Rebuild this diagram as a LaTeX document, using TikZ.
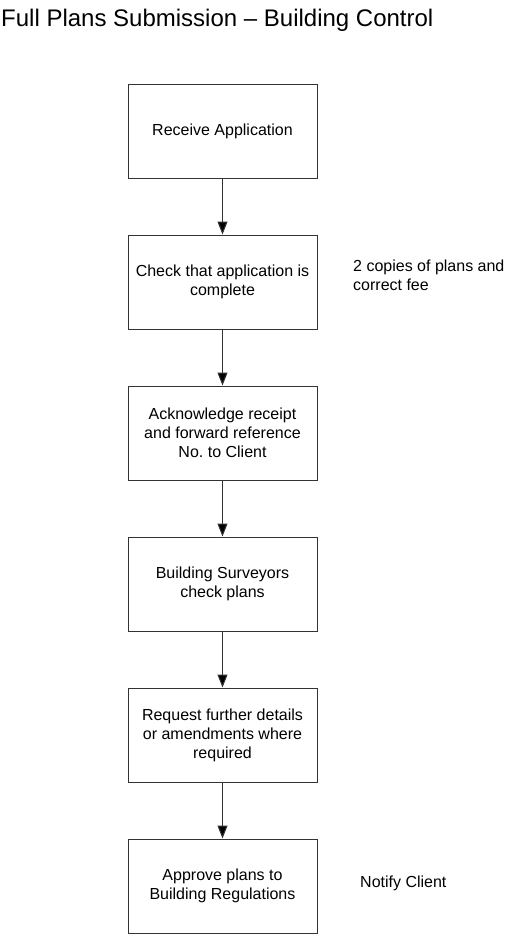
\documentclass[tikz,border=0pt]{standalone}
\usepackage{fontspec}
\setmainfont{Liberation Sans}
\usetikzlibrary{arrows.meta}
\begin{document}
\frenchspacing
\begin{tikzpicture}[x=1pt,y=-1pt,
  stepbox/.style={draw=black!80,line width=1pt,minimum width=189pt,minimum height=94pt,
    inner sep=0pt,align=center,font=\fontsize{16pt}{19pt}\selectfont},
  side/.style={anchor=west,align=left,inner sep=0pt,font=\fontsize{16pt}{19pt}\selectfont},
  flow/.style={draw=black!80,line width=1pt,-{Triangle[length=13pt,width=10pt,fill=black]}}]
\useasboundingbox (0,0) rectangle (510,935);
\node[anchor=base west,inner sep=0pt,font=\fontsize{24pt}{28pt}\selectfont] (title) at (1,26) {Full Plans Submission -- Building Control};
\node[stepbox] (b1) at (222.5,131) {Receive Application};
\node[stepbox] (b2) at (222.5,282) {Check that application is\\complete};
\node[stepbox] (b3) at (222.5,433) {Acknowledge receipt\\and forward reference\\No.\ to Client};
\node[stepbox] (b4) at (222.5,584) {Building Surveyors\\check plans};
\node[stepbox] (b5) at (222.5,735) {Request further details\\or amendments where\\required};
\node[stepbox] (b6) at (222.5,886) {Approve plans to\\Building Regulations};
\node[side] (n2) at (353,275) {2 copies of plans and\\correct fee};
\node[side] (n6) at (360,883) {Notify Client};
\draw[flow] (b1) -- (b2);
\draw[flow] (b2) -- (b3);
\draw[flow] (b3) -- (b4);
\draw[flow] (b4) -- (b5);
\draw[flow] (b5) -- (b6);
\end{tikzpicture}
\end{document}
